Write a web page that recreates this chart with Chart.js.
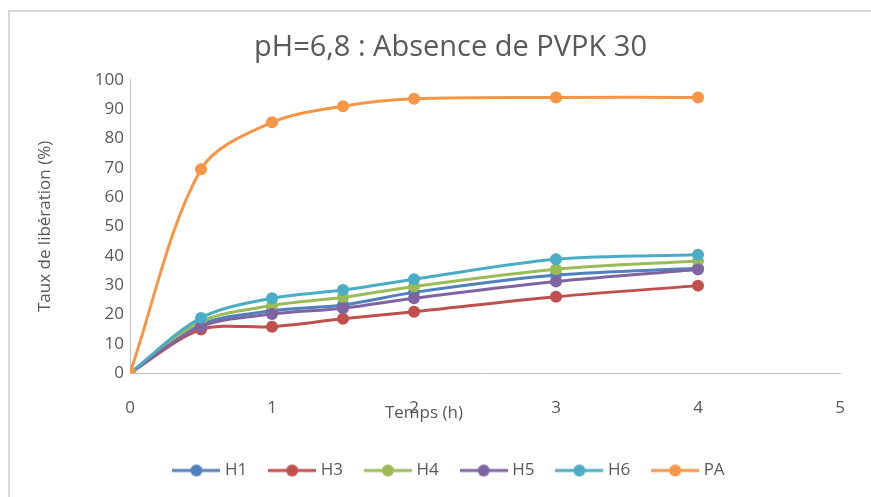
<!DOCTYPE html>
<html>
<head>
<meta charset="utf-8">
<title>pH=6,8 : Absence de PVPK 30</title>
<script src="https://cdn.jsdelivr.net/npm/chart.js@4.4.1/dist/chart.umd.min.js"></script>
<style>
    html, body { margin: 0; padding: 0; background: #fff; }
    #wrap { position: relative; width: 871px; height: 497px; overflow: hidden; }
    #frame {
        position: absolute; left: 8px; top: 10px; width: 900px; height: 520px;
        border-left: 2px solid #d9d9d9; border-top: 2px solid #d9d9d9;
    }
    canvas { position: absolute; left: 0; top: 0; }
</style>
</head>
<body>
<div id="wrap">
    <div id="frame"></div>
    <canvas id="releaseChart" width="871" height="497"></canvas>
</div>
<script>
// time points (h) and release rates (%)
const timeHours = [0, 0.5, 1, 1.5, 2, 3, 4];
const h1 = [0, 16.5, 21.2, 23.2, 27.5, 33.4, 35.7];
const h3 = [0, 14.8, 15.8, 18.5, 20.9, 26.0, 29.8];
const h4 = [0, 17.5, 23.0, 25.8, 29.5, 35.4, 38.2];
const h5 = [0, 15.8, 20.1, 22.1, 25.5, 31.2, 35.3];
const h6 = [0, 18.8, 25.5, 28.3, 32.0, 38.8, 40.3];
const pa = [0, 69.5, 85.5, 91.0, 93.5, 94.0, 94.0];

const seriesNames = ["H1", "H3", "H4", "H5", "H6", "PA"];
const seriesValues = [h1, h3, h4, h5, h6, pa];
const seriesColors = ["#4f81bd", "#c0504d", "#9bbb59", "#8064a2", "#4bacc6", "#f79646"];

const xTickMax = 5;
const yTickMax = 100;
const yTickStep = 10;

const chartTitle = "pH=6,8 : Absence de PVPK 30";
const xTitle = "Temps (h)";
const yTitle = "Taux de libération (%)";

const textColor = "#595959";
const axisColor = "#bfbfbf";
const fontFamily = "'Open Sans', sans-serif";

function toPoints(values) {
    return values.map((v, i) => ({ x: timeHours[i], y: v }));
}

// line with a dot, like the spreadsheet legend
function legendMarker(color) {
    const c = document.createElement("canvas");
    c.width = 48;
    c.height = 14;
    const g = c.getContext("2d");
    g.strokeStyle = color;
    g.lineWidth = 3;
    g.beginPath();
    g.moveTo(0, 7);
    g.lineTo(48, 7);
    g.stroke();
    g.fillStyle = color;
    g.beginPath();
    g.arc(24, 7, 6, 0, Math.PI * 2);
    g.fill();
    return c;
}

const markers = seriesColors.map(legendMarker);

const datasets = seriesNames.map((name, i) => ({
    label: name,
    data: toPoints(seriesValues[i]),
    borderColor: seriesColors[i],
    backgroundColor: seriesColors[i],
    borderWidth: 3,
    pointRadius: 6,
    pointBorderWidth: 0,
    pointBackgroundColor: seriesColors[i],
    tension: 0.32,
    order: seriesNames.length - 1 - i,
}));

// x axis title sits over the tick row, a bit left of centre
const xTitlePlugin = {
    id: "xTitle",
    afterDraw(chart) {
        const sx = chart.scales.x;
        const ctx = chart.ctx;
        ctx.save();
        ctx.font = "17px " + fontFamily;
        ctx.fillStyle = textColor;
        ctx.textAlign = "center";
        ctx.textBaseline = "middle";
        ctx.fillText(xTitle, sx.getPixelForValue(2.07), sx.top + 40);
        ctx.restore();
    },
};

new Chart(document.getElementById("releaseChart"), {
    type: "line",
    data: { datasets: datasets },
    plugins: [xTitlePlugin],
    options: {
        responsive: false,
        animation: false,
        layout: { padding: { left: 30, right: 0, top: 0, bottom: 8 } },
        plugins: {
            tooltip: { enabled: false },
            title: {
                display: true,
                text: chartTitle,
                color: textColor,
                font: { family: fontFamily, size: 29, weight: "normal" },
                padding: { top: 30, bottom: 15 },
            },
            legend: {
                position: "bottom",
                labels: {
                    color: textColor,
                    font: { family: fontFamily, size: 17 },
                    usePointStyle: true,
                    pointStyleWidth: 40,
                    padding: 25,
                    sort: (a, b) => a.datasetIndex - b.datasetIndex,
                    generateLabels: function (chart) {
                        const items = Chart.defaults.plugins.legend.labels.generateLabels(chart);
                        items.forEach((item) => {
                            item.pointStyle = markers[item.datasetIndex];
                        });
                        return items;
                    },
                },
            },
        },
        scales: {
            x: {
                type: "linear",
                min: 0,
                max: xTickMax,
                grid: { display: false, drawTicks: false },
                border: { display: true, color: axisColor, width: 1 },
                ticks: {
                    stepSize: 1,
                    color: textColor,
                    padding: 25,
                    font: { family: fontFamily, size: 17 },
                },
                afterFit: function (scale) {
                    scale.height = 64;
                    scale.paddingRight = 31;
                },
            },
            y: {
                min: 0,
                max: yTickMax,
                grid: { display: false, drawTicks: false },
                border: { display: true, color: axisColor, width: 1 },
                ticks: {
                    stepSize: yTickStep,
                    color: textColor,
                    padding: 6,
                    font: { family: fontFamily, size: 17 },
                },
                title: {
                    display: true,
                    text: yTitle,
                    color: textColor,
                    font: { family: fontFamily, size: 17 },
                    padding: { top: 5, bottom: 0 },
                },
                afterFit: function (scale) {
                    scale.width = 100;
                },
            },
        },
    },
});
</script>
</body>
</html>
